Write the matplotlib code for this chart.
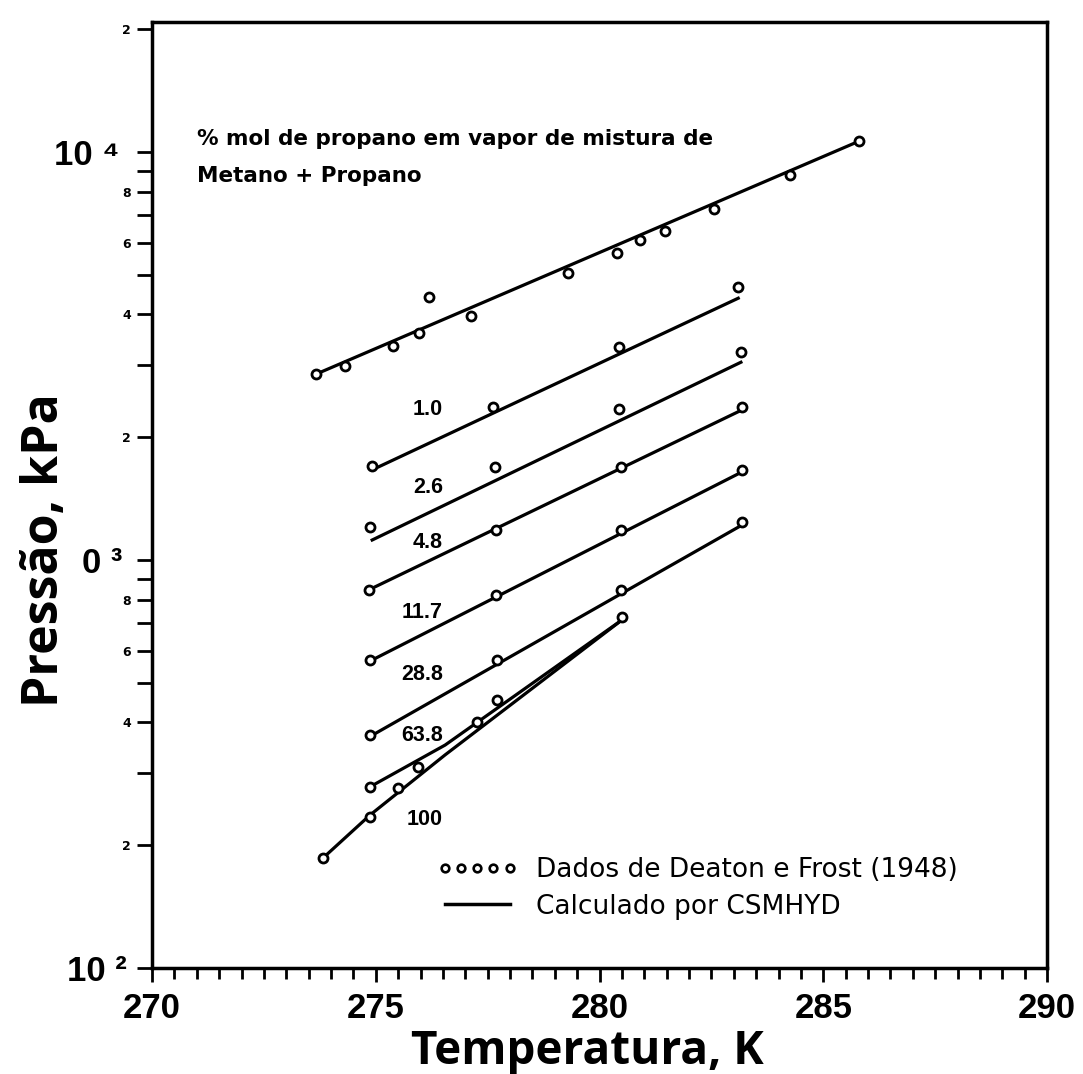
import numpy as np
import matplotlib
matplotlib.use("Agg")
import matplotlib.pyplot as plt
from matplotlib.lines import Line2D
from matplotlib.ticker import FixedLocator, FixedFormatter, NullFormatter

# % mol propano -> dados experimentais (T em K, P em kPa)
T_0 = [273.67, 274.31, 275.39, 275.97, 276.2, 277.13, 279.3, 280.4, 280.9, 281.46, 282.56, 284.26, 285.8]
P_0 = [2858, 2986, 3350, 3600, 4415, 3960, 5050, 5650, 6080, 6400, 7250, 8790, 10640]

T_1 = [274.92, 277.62, 280.44, 283.1]
P_1 = [1699, 2372, 3327, 4670]
T_26 = [274.87, 277.66, 280.44, 283.16]
P_26 = [1205, 1690, 2345, 3236]
T_48 = [274.85, 277.69, 280.48, 283.18]
P_48 = [844, 1186, 1690, 2372]
T_117 = [274.87, 277.69, 280.48, 283.18]
P_117 = [569, 820, 1186, 1663]
T_288 = [274.87, 277.71, 280.48, 283.18]
P_288 = [372, 569, 844, 1240]
T_638 = [274.87, 277.26, 277.71, 280.5]
P_638 = [278, 401, 454, 725]
T_100 = [273.82, 274.87, 275.5, 275.94]
P_100 = [186, 234, 276, 311]

# curvas calculadas (CSMHYD)
Tc_0 = [273.67, 285.8]
Pc_0 = [2858, 10640]
Tc_1 = [274.92, 283.1]
Pc_1 = [1664, 4385]
Tc_26 = [274.92, 283.16]
Pc_26 = [1120, 3055]
Tc_48 = [274.92, 283.18]
Pc_48 = [853, 2333]
Tc_117 = [274.92, 283.18]
Pc_117 = [569, 1644]
Tc_288 = [274.92, 283.18]
Pc_288 = [372, 1218]
Tc_638 = [274.87, 276.55, 280.5]
Pc_638 = [278, 352, 713]
Tc_100 = [273.82, 274.87, 276.55, 280.5]
Pc_100 = [186, 237, 333, 713]

labels = ["1.0", "2.6", "4.8", "11.7", "28.8", "63.8", "100"]
label_T = [276.5] * 7
label_P = [2265, 1459, 1069, 721, 508, 360, 224]

# rotulos das decadas do eixo y (como aparecem na figura digitalizada)
dec_P = [100, 1000, 10000]
dec_lab = ["10 ²", "0 ³", "10 ⁴"]
dec_right = [127, 122, 120]   # borda direita (px)

osans = ["Open Sans", "DejaVu Sans"]
lib = ["Liberation Sans", "DejaVu Sans"]

W, H = 1083, 1074
fig = plt.figure(figsize=(W / 100, H / 100), dpi=100)
ax = fig.add_axes([152 / W, 106 / H, 895 / W, 946 / H])

data = [(T_0, P_0), (T_1, P_1), (T_26, P_26), (T_48, P_48),
        (T_117, P_117), (T_288, P_288), (T_638, P_638), (T_100, P_100)]
calc = [(Tc_0, Pc_0), (Tc_1, Pc_1), (Tc_26, Pc_26), (Tc_48, Pc_48),
        (Tc_117, Pc_117), (Tc_288, Pc_288), (Tc_638, Pc_638), (Tc_100, Pc_100)]

for t, p in calc:
    ax.plot(t, p, color="black", lw=2.3, zorder=2)
for t, p in data:
    ax.plot(t, p, ls="none", marker="o", ms=6.5, mfc="white", mec="black", mew=2.0, zorder=3)

for lab, t, p in zip(labels, label_T, label_P):
    ax.text(t, p, lab, fontsize=15.5, fontweight="bold", family=lib,
            ha="right", va="baseline")

ax.set_yscale("log")
ax.set_xlim(270, 290)
ax.set_ylim(100, 20850)

ax.xaxis.set_major_locator(FixedLocator([270, 275, 280, 285, 290]))
ax.xaxis.set_minor_locator(FixedLocator(np.arange(270, 290.01, 0.5)))
ax.xaxis.set_major_formatter(FixedFormatter(["270", "275", "280", "285", "290"]))

ax.yaxis.set_major_locator(FixedLocator(dec_P))
ax.yaxis.set_major_formatter(NullFormatter())
minor = [m * 10 ** e for e in (2, 3, 4) for m in range(2, 10)]
ax.yaxis.set_minor_locator(FixedLocator(minor))
minor_lab = [str(m) if m in (2, 4, 6, 8) else "" for e in (2, 3, 4) for m in range(2, 10)]
ax.yaxis.set_minor_formatter(FixedFormatter(minor_lab))

ytr = ax.get_yaxis_transform()
for p, lab, xr in zip(dec_P, dec_lab, dec_right):
    ax.text((xr - 152) / 895, p, lab, transform=ytr, fontsize=25, fontweight="bold",
            family=lib, ha="right", va="center_baseline", clip_on=False)

for lbl in ax.get_xticklabels():
    lbl.set_fontsize(25)
    lbl.set_fontweight("bold")
    lbl.set_family(lib)
for lbl in ax.get_yticklabels(minor=True):
    lbl.set_fontsize(9)
    lbl.set_fontweight("bold")

ax.tick_params(axis="x", which="major", direction="out", length=10, width=2, pad=7)
ax.tick_params(axis="x", which="minor", direction="out", length=8, width=2, pad=7)
ax.tick_params(axis="y", which="both", direction="out", length=11, width=2, pad=4)
for s in ax.spines.values():
    s.set_linewidth(2.5)

ax.set_xlabel("Temperatura, K", fontsize=33, fontweight="bold", family=osans)
ax.xaxis.set_label_coords((587 - 152) / 895, -(1064 - 968) / 946)
ax.xaxis.label.set_va("baseline")

ax.set_ylabel("Pressão, kPa", fontsize=36, fontweight="bold", family=osans)
ax.yaxis.set_label_coords((45 - 152) / 895, (968 - 550) / 946)
ax.yaxis.label.set_va("center")

ax.text(197 / W, 1 - 145 / H, "% mol de propano em vapor de mistura de",
        transform=fig.transFigure, fontsize=15.5, fontweight="bold",
        family="DejaVu Sans", ha="left", va="baseline")
ax.text(197 / W, 1 - 182 / H, "Metano + Propano",
        transform=fig.transFigure, fontsize=15.5, fontweight="bold",
        family="DejaVu Sans", ha="left", va="baseline")

handles = [Line2D([], [], ls="none", marker="o", ms=5.5, mfc="white", mec="black", mew=1.9),
           Line2D([], [], color="black", lw=2.5)]
ax.legend(handles, ["Dados de Deaton e Frost (1948)", "Calculado por CSMHYD"],
          numpoints=5, handlelength=3.05, frameon=False, loc="upper left",
          bbox_to_anchor=(437 / W, 1 - 857 / H), bbox_transform=fig.transFigure,
          prop={"family": "DejaVu Sans", "size": 19}, handletextpad=0.72, labelspacing=0.4,
          borderaxespad=0, borderpad=0)

fig.savefig("out.png", dpi=100)
